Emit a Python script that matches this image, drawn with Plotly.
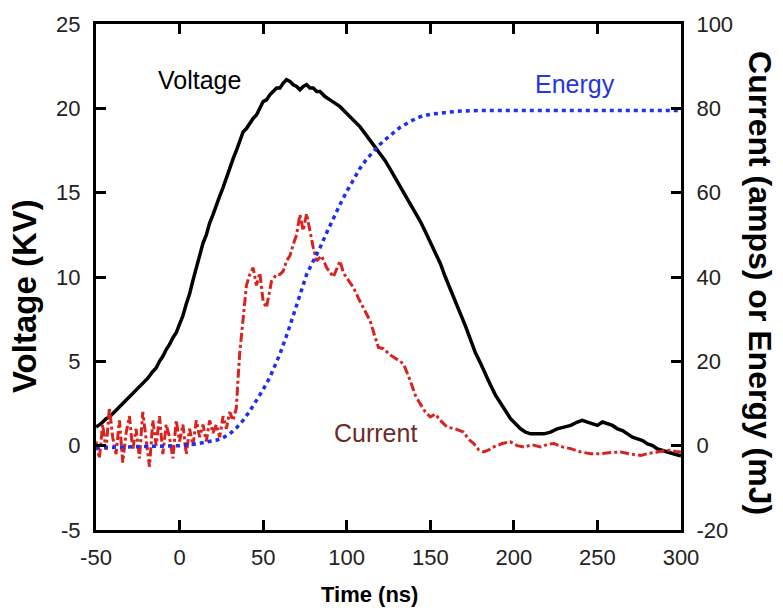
import plotly.graph_objects as go

# ---- data ----
volt_t = [-50, -47, -44, -42, -39, -36, -34, -31, -29, -26, -24, -21, -19, -16, -14, -12, -10, -8, -6, -4, -2, 0,
          2, 4, 6, 8, 10, 12, 14, 16, 18, 20, 22, 24, 26, 28, 30, 32, 34, 36, 38, 40, 42, 44, 46, 48, 50,
          52, 54, 56, 58, 60, 62, 64, 66, 68, 70, 72, 74, 76, 78, 80, 82, 84, 87, 90, 93, 96, 99, 102,
          105, 108, 111, 114, 117, 120, 123, 126, 129, 132, 135, 138, 141, 144, 147, 150, 153, 156, 159,
          162, 165, 168, 171, 174, 177, 180, 183, 186, 189, 192, 195, 198, 201, 204, 207, 210, 214, 218,
          222, 226, 230, 234, 238, 241, 244, 247, 250, 253, 256, 259, 262, 265, 268, 271, 274, 277, 280,
          283, 286, 289, 292, 295, 298, 300]
volt_v = [1.1, 1.3, 1.6, 1.7, 2.0, 2.3, 2.5, 2.8, 3.0, 3.3, 3.5, 3.8, 4.0, 4.4, 4.6, 5.0, 5.3, 5.7, 6.0, 6.4, 6.7, 7.2,
          7.7, 8.4, 9.0, 9.8, 10.5, 11.2, 12.0, 12.5, 13.2, 13.7, 14.3, 14.8, 15.3, 15.9, 16.4, 17.0, 17.5, 18.1, 18.6, 18.8, 19.1, 19.4, 19.6, 20.0, 20.4,
          20.5, 20.8, 21.0, 21.2, 21.2, 21.5, 21.7, 21.6, 21.4, 21.3, 21.1, 21.3, 21.4, 21.2, 21.2, 21.0, 21.0, 20.7, 20.5, 20.3, 20.1, 19.8, 19.5,
          19.2, 18.9, 18.5, 18.1, 17.7, 17.3, 16.9, 16.4, 15.9, 15.4, 14.9, 14.3, 13.9, 13.3, 12.7, 12.1, 11.4, 10.8, 10.0,
          9.3, 8.5, 7.8, 7.1, 6.3, 5.5, 4.9, 4.2, 3.6, 3.0, 2.5, 2.0, 1.6, 1.3, 1.0, 0.8, 0.7, 0.7, 0.7,
          0.8, 1.0, 1.1, 1.2, 1.4, 1.5, 1.4, 1.3, 1.2, 1.4, 1.3, 1.2, 1.0, 0.9, 0.7, 0.5, 0.4, 0.3, 0.1,
          0.0, -0.2, -0.3, -0.4, -0.5, -0.55, -0.6]

energy_t = [-50, -20, 0, 10, 16, 22, 26, 30, 34, 38, 42, 46, 50, 54, 57, 60, 65, 70, 76, 80, 84, 88, 92,
            96, 100, 104, 108, 112, 116, 120, 124, 128, 132, 138, 144, 150, 156, 161, 166, 180, 220, 260, 300]
energy_e = [-0.5, -0.3, 0.0, 0.4, 0.8, 1.3, 1.9, 2.8, 4.2, 6.0, 8.2, 10.7, 13.3, 16.2, 18.9, 21.7, 27.2, 33.5, 40.6, 43.8, 46.9, 50.5, 54.0,
            57.2, 60.3, 63.2, 65.8, 68.0, 69.8, 71.5, 72.9, 74.3, 75.5, 76.9, 78.0, 78.6, 78.9, 79.1, 79.3, 79.5, 79.5, 79.5, 79.5]

current_t = [-50, -48, -46, -44, -42, -40, -38, -36, -34, -32, -30, -28, -26, -24, -22, -20, -18, -16, -14, -12,
             -10, -8, -6, -4, -2, 0, 2, 4, 6, 8, 10, 12, 14, 16, 18, 20, 22, 24, 26, 28, 30, 32,
             34, 35, 36, 38, 40, 42, 44, 46, 48, 50, 52, 55, 58, 60, 62, 64, 66, 68, 70, 72, 74, 76, 78,
             80, 82, 85, 88, 92, 96, 98, 100, 104, 107, 110, 114, 117, 119, 122, 126, 130, 134, 138, 141,
             144, 147, 150, 153, 156, 160, 165, 170, 173, 176, 179, 182, 185, 188, 193, 198, 202, 206, 211,
             216, 220, 224, 229, 234, 240, 246, 252, 258, 264, 270, 276, 281, 286, 290, 294, 297, 300]
current_i = [1, -3, 5, -1, 9, 2, -2, 6, -4, 3, 7, -1, 4, -3, 8, 1, -5, 6, 0, 7,
             -2, 5, 2, -3, 6, 1, 5, -2, 4, 0, 6, 2, 5, 1, 6, 3, 5, 2, 7, 4, 8, 6,
             9, 16, 22, 30, 38, 40.6, 42.2, 38, 41, 34.3, 32.7, 39, 40.6, 40.6, 41.4, 43.8, 45, 47.7, 50, 54.8, 51, 55, 50.9,
             46.9, 43.8, 45, 42.2, 40, 43.8, 41, 39.8, 37.5, 35, 32.7, 29.6, 25.7, 23.3, 23, 21.5, 20.5, 19.4, 15.4, 12,
             9.9, 8, 6.8, 7.5, 6.0, 4.4, 4, 3.2, 1.5, 0.5, -1, -1.5, -1.0, -0.3, 0.5, 0.9, 0, -0.3, 0.2,
             -0.3, 0.3, 0.5, -0.3, -0.7, -1.5, -1.9, -1.9, -1.6, -1.5, -2, -2.3, -1.8, -1.5, -1.2, -1.1, -1.4, -1.5]

x_ticks = [-50, 0, 50, 100, 150, 200, 250, 300]
x_labels = ["-50", "0", "50", "100", "150", "200", "250", "300"]
y_ticks = [-5, 0, 5, 10, 15, 20, 25]
y_labels = ["-5", "0", "5", "10", "15", "20", "25"]
y2_ticks = [-20, 0, 20, 40, 60, 80, 100]
y2_labels = ["-20", "0", "20", "40", "60", "80", "100"]

FONT = "Liberation Sans, Arial, sans-serif"

fig = go.Figure()
fig.add_trace(go.Scatter(x=current_t, y=current_i, yaxis="y2", mode="lines",
                         line=dict(color="#d8231f", width=3, dash="dashdot"), showlegend=False))
fig.add_trace(go.Scatter(x=energy_t, y=energy_e, yaxis="y2", mode="lines",
                         line=dict(color="#1f2ff0", width=3.5, dash="4px,4px"), showlegend=False))
fig.add_trace(go.Scatter(x=volt_t, y=volt_v, mode="lines",
                         line=dict(color="black", width=3.5), showlegend=False))

axis_common = dict(ticks="inside", ticklen=10, tickwidth=2.5, tickcolor="black",
                   showline=True, linewidth=3, linecolor="black", showgrid=False, zeroline=False,
                   tickfont=dict(family=FONT, size=22, color="#222"))

fig.update_layout(
    width=783, height=611,
    margin=dict(l=96, r=102, t=22, b=81),
    paper_bgcolor="white", plot_bgcolor="white",
    xaxis=dict(range=[-50, 300], tickvals=x_ticks, ticktext=x_labels, mirror="ticks",
               ticklabelstandoff=6, **axis_common),
    yaxis=dict(range=[-5, 25], tickvals=y_ticks, ticktext=y_labels, mirror=True,
               ticklabelstandoff=8, **axis_common),
    yaxis2=dict(range=[-20, 100], tickvals=y2_ticks, ticktext=y2_labels, overlaying="y", side="right",
                ticklabelstandoff=8, **axis_common),
)

annotations = [
    dict(text="Voltage", x=12, y=21.7, xref="x", yref="y", showarrow=False,
         font=dict(family=FONT, size=25, color="black")),
    dict(text="Energy", x=236.6, y=85.8, xref="x", yref="y2", showarrow=False,
         font=dict(family=FONT, size=25, color="#2535e0")),
    dict(text="Current", x=117.5, y=3.1, xref="x", yref="y2", showarrow=False,
         font=dict(family=FONT, size=25, color="#6e2a2a")),
    dict(text="<b>Time (ns)</b>", x=0.468, y=-0.128, xref="paper", yref="paper", showarrow=False,
         xanchor="center", yanchor="middle", font=dict(family=FONT, size=22, color="black")),
    dict(text="<b>Voltage (KV)</b>", x=-0.121, y=0.463, xref="paper", yref="paper", showarrow=False,
         textangle=-90, xanchor="center", yanchor="middle", font=dict(family=FONT, size=33, color="black")),
    dict(text="<b>Current (amps) or Energy (mJ)</b>", x=1.135, y=0.488, xref="paper", yref="paper",
         showarrow=False, textangle=90, xanchor="center", yanchor="middle",
         font=dict(family=FONT, size=32, color="black")),
]
fig.update_layout(annotations=annotations)

fig.write_html("out.html")
